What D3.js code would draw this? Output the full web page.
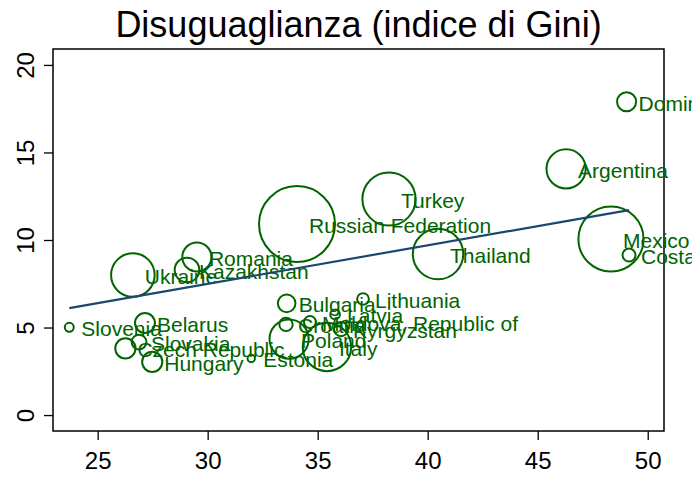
<!DOCTYPE html>
<html>
<head>
<meta charset="utf-8">
<script src="https://cdn.jsdelivr.net/npm/d3@7"></script>
<style>
  body { margin: 0; background: #fff; }
  text { font-family: "Liberation Sans", Arial, sans-serif; }
</style>
</head>
<body>
<div id="chart"></div>
<script>
// country data
const countries = ["Slovenia", "Belarus", "Slovakia", "Czech Republic", "Hungary", "Estonia",
    "Ukraine", "Kazakhstan", "Romania", "Russian Federation", "Turkey", "Thailand",
    "Argentina", "Mexico", "Costa Rica", "Dominican Republic", "Bulgaria", "Lithuania",
    "Croatia", "Latvia", "Moldova, Republic of", "Kyrgyzstan", "Poland", "Italy"];
const gini = [23.71, 27.15, 26.88, 26.26, 27.48, 31.98,
    26.60, 29.06, 29.51, 34.06, 38.24, 40.47,
    46.29, 48.33, 49.15, 49.04, 33.59, 37.06,
    33.56, 35.79, 34.65, 36.06, 33.70, 35.42];
const yValues = [5.01, 5.26, 4.17, 3.81, 3.04, 3.23,
    8.00, 8.29, 9.03, 10.91, 12.34, 9.20,
    14.06, 10.06, 9.14, 17.90, 6.38, 6.63,
    5.18, 5.75, 5.31, 4.91, 4.34, 3.89];
// bubble weight (population, millions)
const weights = [2.0, 9.8, 5.4, 10.2, 10.1, 1.35,
    47, 15, 21, 143, 70, 63,
    38, 105, 4.2, 9, 7.7, 3.4,
    4.4, 2.3, 3.6, 5, 38, 58];
// fitted line end points
const fitX = [23.71, 49.15];
const fitY = [6.11, 11.71];

const xTicks = [25, 30, 35, 40, 45, 50];
const yTicks = [0, 5, 10, 15, 20];
const title = "Disuguaglianza (indice di Gini)";

const width = 692, height = 477;
const margin = { top: 49, right: 28, bottom: 46, left: 53 };
const green = "#006400", navy = "#1a476f";

const data = countries.map((c, i) => ({ name: c, x: gini[i], y: yValues[i], w: weights[i] }));

const svg = d3.select("#chart").append("svg")
    .attr("width", width)
    .attr("height", height);

const xScale = d3.scaleLinear()
    .domain([22.97, 50.74])
    .range([margin.left, width - margin.right]);
const yScale = d3.scaleLinear()
    .domain([-0.91, 20.91])
    .range([height - margin.bottom, margin.top]);
const rScale = d3.scaleSqrt()
    .domain([0, d3.max(weights)])
    .range([0, 38]);

// title
svg.append("text")
    .attr("x", (margin.left + width - margin.right) / 2)
    .attr("y", 37)
    .attr("text-anchor", "middle")
    .style("font-size", "36px")
    .text(title);

// axes
const xAxis = svg.append("g")
    .attr("transform", `translate(0,${height - margin.bottom})`)
    .call(d3.axisBottom(xScale).tickValues(xTicks).tickSize(9).tickPadding(4));
xAxis.select(".domain").remove();
xAxis.selectAll("text").style("font-size", "24px").attr("dy", "1.05em");
xAxis.selectAll("line").attr("stroke", "#000").attr("stroke-width", 1.3);

const yAxis = svg.append("g")
    .attr("transform", `translate(${margin.left},0)`)
    .call(d3.axisLeft(yScale).tickValues(yTicks).tickSize(9));
yAxis.select(".domain").remove();
yAxis.selectAll("line").attr("stroke", "#000").attr("stroke-width", 1.3);
yAxis.selectAll("text")
    .style("font-size", "24px")
    .attr("text-anchor", "middle")
    .attr("dy", null)
    .attr("x", null)
    .attr("transform", "translate(-19,0) rotate(-90)");

// plot frame
svg.append("rect")
    .attr("x", margin.left)
    .attr("y", margin.top)
    .attr("width", width - margin.left - margin.right)
    .attr("height", height - margin.top - margin.bottom)
    .attr("fill", "none")
    .attr("stroke", "#000")
    .attr("stroke-width", 1.5);

// bubbles
svg.append("g").selectAll("circle")
    .data(data)
    .join("circle")
    .attr("cx", d => xScale(d.x))
    .attr("cy", d => yScale(d.y))
    .attr("r", d => rScale(d.w))
    .attr("fill", "none")
    .attr("stroke", green)
    .attr("stroke-width", 2);

// marker labels
svg.append("g").selectAll("text")
    .data(data)
    .join("text")
    .attr("x", d => xScale(d.x) + 12)
    .attr("y", d => yScale(d.y))
    .attr("dy", "0.42em")
    .attr("fill", green)
    .style("font-size", "21px")
    .text(d => d.name);

// fitted line
svg.append("path")
    .datum(fitX.map((x, i) => [x, fitY[i]]))
    .attr("d", d3.line().x(d => xScale(d[0])).y(d => yScale(d[1])))
    .attr("fill", "none")
    .attr("stroke", navy)
    .attr("stroke-width", 2.2);
</script>
</body>
</html>
